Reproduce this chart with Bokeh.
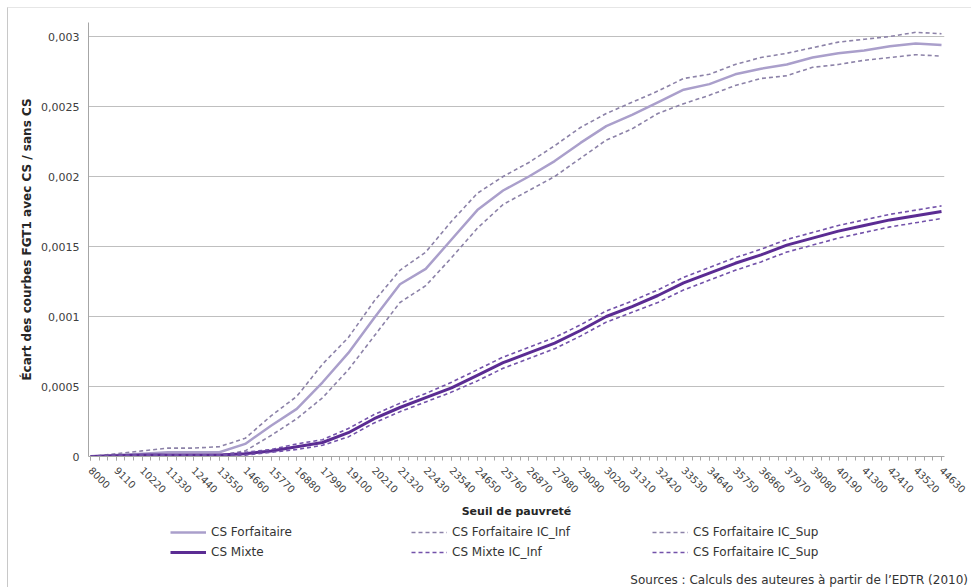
import math
from bokeh.plotting import figure
from bokeh.layouts import column
from bokeh.models import (Range1d, FixedTicker, CustomJSTickFormatter, Legend,
                          LegendItem, Div)
from bokeh.embed import file_html
from bokeh.resources import INLINE

# ---- data ----
seuils = [8000, 9110, 10220, 11330, 12440, 13550, 14660, 15770, 16880, 17990,
          19100, 20210, 21320, 22430, 23540, 24650, 25760, 26870, 27980, 29090,
          30200, 31310, 32420, 33530, 34640, 35750, 36860, 37970, 39080, 40190,
          41300, 42410, 43520, 44630]

cs_forfaitaire = [0, 0.00001, 0.00002, 0.00003, 0.00003, 0.00003, 0.00009, 0.00022,
                  0.00034, 0.00053, 0.00074, 0.00099, 0.00123, 0.00134, 0.00155,
                  0.00176, 0.0019, 0.002, 0.00211, 0.00224, 0.00236, 0.00244,
                  0.00253, 0.00262, 0.00266, 0.00273, 0.00277, 0.0028, 0.00285,
                  0.00288, 0.0029, 0.00293, 0.00295, 0.00294]
cs_forfaitaire_sup = [0, 0.00002, 0.00004, 0.00006, 0.00006, 0.00007, 0.00013, 0.00029,
                      0.00043, 0.00066, 0.00085, 0.00111, 0.00133, 0.00146, 0.00168,
                      0.00188, 0.002, 0.0021, 0.00222, 0.00235, 0.00245, 0.00253,
                      0.00261, 0.0027, 0.00273, 0.0028, 0.00285, 0.00288, 0.00292,
                      0.00296, 0.00298, 0.003, 0.00303, 0.00302]
cs_forfaitaire_inf = [0, 0, 0.00001, 0.00001, 0.00001, 0.00001, 0.00004, 0.00015,
                      0.00027, 0.00042, 0.00062, 0.00086, 0.0011, 0.00122, 0.00142,
                      0.00163, 0.0018, 0.0019, 0.002, 0.00213, 0.00226, 0.00234,
                      0.00245, 0.00252, 0.00258, 0.00265, 0.0027, 0.00272, 0.00278,
                      0.0028, 0.00283, 0.00285, 0.00287, 0.00286]

cs_mixte = [0, 0.000005, 0.00001, 0.00001, 0.00001, 0.00001, 0.00002, 0.00004,
            0.00007, 0.0001, 0.00017, 0.00027, 0.00035, 0.00042, 0.00049, 0.00058,
            0.00067, 0.00074, 0.00081, 0.0009, 0.001, 0.00107, 0.00115, 0.00124,
            0.00131, 0.00138, 0.00144, 0.00151, 0.00156, 0.00161, 0.00165, 0.00169,
            0.00172, 0.00175]
cs_mixte_sup = [0, 0.00001, 0.00001, 0.00001, 0.00001, 0.00001, 0.00003, 0.00005,
                0.00009, 0.00012, 0.0002, 0.0003, 0.00038, 0.00045, 0.00053, 0.00062,
                0.00071, 0.00078, 0.00085, 0.00094, 0.00104, 0.00111, 0.00119, 0.00128,
                0.00135, 0.00142, 0.00148, 0.00155, 0.0016, 0.00165, 0.00169, 0.00173,
                0.00176, 0.00179]
cs_mixte_inf = [0, 0, 0.00001, 0.00001, 0.00001, 0.00001, 0.00001, 0.00003, 0.00005,
                0.00008, 0.00014, 0.00024, 0.00032, 0.00039, 0.00046, 0.00054, 0.00063,
                0.0007, 0.00077, 0.00086, 0.00096, 0.00103, 0.0011, 0.00119, 0.00126,
                0.00133, 0.00139, 0.00146, 0.00151, 0.00156, 0.0016, 0.00164, 0.00167,
                0.0017]

y_ticks = [0, 0.0005, 0.001, 0.0015, 0.002, 0.0025, 0.003]

legend_labels = ["CS Forfaitaire", "CS Forfaitaire IC_Inf", "CS Forfaitaire IC_Sup",
                 "CS Mixte", "CS Mixte IC_Inf", "CS Forfaitaire IC_Sup"]

source_text = "Sources : Calculs des auteures à partir de l’EDTR (2010)"

# ---- styling ----
FONT = "DejaVu Sans"
C_F = "#aa9fcb"
C_F_IC = "#8c82a8"
C_M = "#5b2c93"
C_M_IC = "#7352aa"
W = 963

chart = figure(width=W, height=514, frame_width=856, frame_height=434,
               min_border_left=80, min_border_right=27, min_border_top=14,
               min_border_bottom=66,
               x_range=Range1d(7914, 44759), y_range=Range1d(0, 0.0031),
               output_backend="svg", toolbar_location=None)
chart.outline_line_color = None
chart.background_fill_color = "white"
chart.border_fill_color = "white"

line_specs = [
    (cs_forfaitaire, C_F, 2.5, "solid"),
    (cs_forfaitaire_inf, C_F_IC, 1.6, "4 3"),
    (cs_forfaitaire_sup, C_F_IC, 1.6, "4 3"),
    (cs_mixte, C_M, 3, "solid"),
    (cs_mixte_inf, C_M_IC, 1.6, "4 3"),
    (cs_mixte_sup, C_M_IC, 1.6, "4 3"),
]
for ys, col, lw, dash in line_specs:
    chart.line(seuils, ys, line_color=col, line_width=lw, line_dash=dash)

# grid
chart.xgrid.visible = False
chart.ygrid.ticker = FixedTicker(ticks=y_ticks)
chart.ygrid.grid_line_color = "#bfbfbf"
chart.ygrid.grid_line_width = 1

# y axis
ya = chart.yaxis[0]
ya.ticker = FixedTicker(ticks=y_ticks)
ya.formatter = CustomJSTickFormatter(
    code="return (Math.round(tick*100000)/100000).toString().replace('.', ',');")
ya.axis_line_color = "#a6a6a6"
ya.major_tick_line_color = None
ya.minor_tick_line_color = None
ya.major_tick_out = 0
ya.major_tick_in = 0
ya.major_label_standoff = 9
ya.major_label_text_font = FONT
ya.major_label_text_font_size = "11px"
ya.major_label_text_color = "#404040"
ya.axis_label = "Écart des courbes FGT1 avec CS / sans CS"
ya.axis_label_text_font = FONT
ya.axis_label_text_font_size = "12px"
ya.axis_label_text_font_style = "bold"
ya.axis_label_text_color = "#262626"
ya.axis_label_standoff = 4

# x axis
minor = []
for s in seuils:
    minor += [s, s + 370, s + 740]
xa = chart.xaxis[0]
xa.ticker = FixedTicker(ticks=seuils, minor_ticks=minor[:-2])
xa.formatter = CustomJSTickFormatter(code="return tick.toFixed(0);")
xa.axis_line_color = "#a6a6a6"
xa.major_tick_line_color = "#a6a6a6"
xa.minor_tick_line_color = "#a6a6a6"
xa.major_tick_out = 4
xa.major_tick_in = 0
xa.minor_tick_out = 4
xa.minor_tick_in = 0
xa.major_label_orientation = -math.pi / 4
xa.major_label_standoff = 8
xa.major_label_text_font = FONT
xa.major_label_text_font_size = "10px"
xa.major_label_text_color = "#404040"
xa.axis_label = "Seuil de pauvreté"
xa.axis_label_text_font = FONT
xa.axis_label_text_font_size = "11px"
xa.axis_label_text_font_style = "bold"
xa.axis_label_text_color = "#262626"
xa.axis_label_standoff = 5

# ---- legend strip (its frame is aligned with the chart frame) ----
H2 = 44
leg = figure(width=W, height=H2, x_range=Range1d(0, W), y_range=Range1d(0, H2),
             min_border=0, output_backend="svg", toolbar_location=None)
leg.axis.visible = False
leg.grid.visible = False
leg.outline_line_color = None
leg.border_fill_color = "white"
leg.background_fill_color = "white"

items = []
for lab, (ys, col, lw, dash) in zip(legend_labels, line_specs):
    # same series, far outside this strip's range: only the legend swatch shows
    rr = leg.line(seuils, ys, line_color=col, line_width=lw, line_dash=dash)
    items.append(LegendItem(label=lab, renderers=[rr]))

lg = Legend(items=items, ncols=3, orientation="horizontal",
            location=(82, 7), padding=0, margin=0, spacing=6,
            glyph_width=36, glyph_height=14, label_standoff=5, label_width=194,
            label_text_font=FONT, label_text_font_size="12px",
            label_text_color="#333333", border_line_color=None,
            background_fill_alpha=0)
leg.add_layout(lg, "center")

src = Div(text=source_text, width=955, height=18,
          styles={"text-align": "right", "font-family": FONT, "font-size": "12px",
                  "color": "#333333", "line-height": "18px"})

p = column(chart, leg, src, spacing=0)
p.margin = (7, 0, 0, 7)
p.styles = {"border-left": "1px solid #c8c8c8", "border-top": "1px solid #e6e6e6",
            "border-bottom": "1px solid #c8c8c8"}

open("out.html", "w").write(file_html(p, INLINE))
